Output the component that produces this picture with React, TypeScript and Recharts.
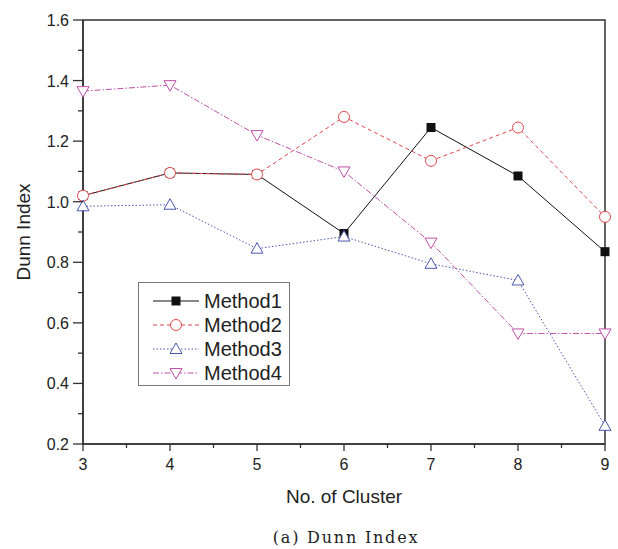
import React from "react";
import { LineChart, Line, XAxis, YAxis, Legend, ReferenceArea, Label } from "recharts";

const clusters = [3, 4, 5, 6, 7, 8, 9];
const method1 = [1.02, 1.095, 1.09, 0.895, 1.245, 1.085, 0.835];
const method2 = [1.02, 1.095, 1.09, 1.28, 1.135, 1.245, 0.95];
const method3 = [0.985, 0.99, 0.845, 0.885, 0.795, 0.74, 0.26];
const method4 = [1.365, 1.385, 1.22, 1.1, 0.865, 0.565, 0.565];
const xTicks = [3, 3.5, 4, 4.5, 5, 5.5, 6, 6.5, 7, 7.5, 8, 8.5, 9];
const yTicks = [0.2, 0.3, 0.4, 0.5, 0.6, 0.7, 0.8, 0.9, 1.0, 1.1, 1.2, 1.3, 1.4, 1.5, 1.6];

const data = clusters.map((c, i) => ({
  c,
  m1: method1[i],
  m2: method2[i],
  m3: method3[i],
  m4: method4[i],
}));

const FONT = "'Liberation Sans', Arial, sans-serif";

type Shape = "square" | "circle" | "up" | "down";
const series: { key: string; name: string; color: string; dash?: string; shape: Shape }[] = [
  { key: "m1", name: "Method1", color: "#111111", shape: "square" },
  { key: "m2", name: "Method2", color: "#e0474c", dash: "4 3", shape: "circle" },
  { key: "m3", name: "Method3", color: "#4b58b0", dash: "1.5 2", shape: "up" },
  { key: "m4", name: "Method4", color: "#c050a8", dash: "6 2 1.5 2", shape: "down" },
];

function Marker({ cx, cy, shape, color }: { cx: number; cy: number; shape: Shape; color: string }) {
  if (shape === "square") {
    return <rect x={cx - 4.5} y={cy - 4.5} width={9} height={9} fill={color} />;
  }
  if (shape === "circle") {
    return <circle cx={cx} cy={cy} r={5.5} fill="#fff" stroke={color} strokeWidth={1} />;
  }
  if (shape === "up") {
    return (
      <polygon
        points={`${cx},${cy - 6} ${cx - 6},${cy + 4.5} ${cx + 6},${cy + 4.5}`}
        fill="#fff"
        stroke={color}
        strokeWidth={1}
      />
    );
  }
  return (
    <polygon
      points={`${cx},${cy + 6} ${cx - 6},${cy - 4.5} ${cx + 6},${cy - 4.5}`}
      fill="#fff"
      stroke={color}
      strokeWidth={1}
    />
  );
}

const XTick = (props: any) => {
  const { x, y, payload } = props;
  const v = payload.value as number;
  const major = Math.abs(v - Math.round(v)) < 1e-6;
  return (
    <g>
      <line x1={x} x2={x} y1={y} y2={y + (major ? 7 : 4)} stroke="#333" strokeWidth={1.3} />
      {major && (
        <text x={x} y={y + 26} textAnchor="middle" fontSize={16} fontFamily={FONT} fill="#222">
          {v}
        </text>
      )}
    </g>
  );
};

const YTick = (props: any) => {
  const { x, y, payload } = props;
  const v = payload.value as number;
  const major = Math.round(v * 10) % 2 === 0;
  return (
    <g>
      <line x1={x - (major ? 10 : 5)} x2={x} y1={y} y2={y} stroke="#333" strokeWidth={1.3} />
      {major && (
        <text x={x - 14} y={y + 6} textAnchor="end" fontSize={16} fontFamily={FONT} fill="#222">
          {v.toFixed(1)}
        </text>
      )}
    </g>
  );
};

const LegendBox = () => (
  <div
    style={{
      border: "1px solid #777",
      background: "#fff",
      padding: "6px 6px 0px 12px",
      fontFamily: FONT,
      fontSize: 20,
      color: "#222",
      lineHeight: "24px",
    }}
  >
    {series.map((s) => (
      <div key={s.key} style={{ display: "flex", alignItems: "center", height: 24 }}>
        <svg width={50} height={20} style={{ marginRight: 3 }}>
          <line x1={2} x2={48} y1={10} y2={10} stroke={s.color} strokeWidth={1} strokeDasharray={s.dash} />
          <Marker cx={25} cy={10} shape={s.shape} color={s.color} />
        </svg>
        <span>{s.name}</span>
      </div>
    ))}
  </div>
);

export default function App() {
  return (
    <div style={{ position: "absolute", left: 0, top: 0, width: 618, height: 549, background: "#fff" }}>
      <LineChart width={618} height={549} data={data} margin={{ top: 20, right: 13, left: 0, bottom: 75 }}>
        <XAxis
          dataKey="c"
          type="number"
          domain={[3, 9]}
          ticks={xTicks}
          interval={0}
          tickSize={0}
          tickMargin={0}
          tick={<XTick />}
          axisLine={{ stroke: "#333", strokeWidth: 1.5 }}
          height={30}
        >
          <Label
            value="No. of Cluster"
            position="bottom"
            offset={16}
            style={{ fontFamily: FONT, fontSize: 19, fill: "#222" }}
          />
        </XAxis>
        <YAxis
          type="number"
          domain={[0.2, 1.6]}
          ticks={yTicks}
          interval={0}
          tickSize={0}
          tickMargin={0}
          tick={<YTick />}
          axisLine={{ stroke: "#333", strokeWidth: 1.5 }}
          width={83}
        >
          <Label
            value="Dunn Index"
            angle={-90}
            position="insideLeft"
            offset={23}
            style={{ fontFamily: FONT, fontSize: 19, fill: "#222", textAnchor: "middle" }}
          />
        </YAxis>
        <ReferenceArea x1={3} x2={9} y1={0.2} y2={1.6} fill="none" stroke="#333" strokeWidth={1.5} fillOpacity={0} />
        {series.map((s) => (
          <Line
            key={s.key}
            dataKey={s.key}
            name={s.name}
            stroke={s.color}
            strokeWidth={1}
            strokeDasharray={s.dash}
            isAnimationActive={false}
            dot={(p: any) => <Marker key={`${s.key}-${p.index}`} cx={p.cx} cy={p.cy} shape={s.shape} color={s.color} />}
            activeDot={false}
          />
        ))}
        <Legend
          layout="vertical"
          align="center"
          verticalAlign="middle"
          content={() => <LegendBox />}
          wrapperStyle={{ left: 138, top: 282, width: 152 }}
        />
      </LineChart>
      <div
        style={{
          position: "absolute",
          left: 0,
          width: 692,
          top: 528,
          textAlign: "center",
          fontFamily: "'DejaVu Serif', 'Liberation Serif', serif",
          fontSize: 16,
          letterSpacing: 1.8,
          color: "#222",
          lineHeight: "20px",
        }}
      >
        (a) Dunn Index
      </div>
    </div>
  );
}
